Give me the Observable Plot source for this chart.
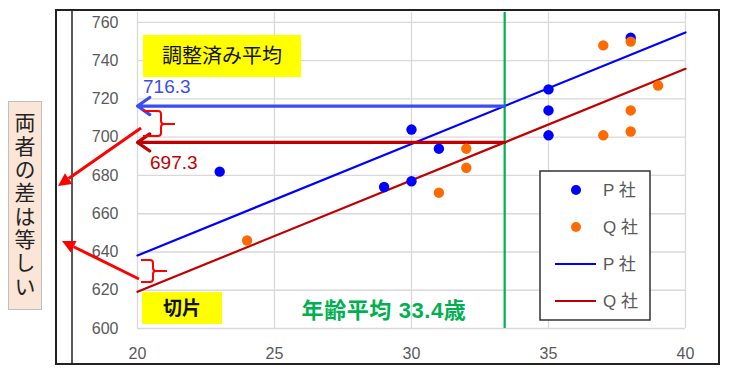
<!DOCTYPE html>
<html><head><meta charset="utf-8">
<script src="https://cdn.jsdelivr.net/npm/d3@7"></script>
<script src="https://cdn.jsdelivr.net/npm/@observablehq/plot@0.6"></script>
<style>
body{margin:0;background:#fff;}
#wrap{position:relative;width:744px;height:372px;overflow:hidden;background:#fff;}
#lbl{position:absolute;left:8px;top:101px;width:32px;height:207px;background:#fbe5d6;border:1px solid #bfbfbf;
 writing-mode:vertical-rl;font-family:"Noto Sans CJK JP",sans-serif;font-size:21px;line-height:32px;letter-spacing:2.3px;
 color:#222;padding-top:0px;text-align:center;box-sizing:content-box;}
</style></head>
<body><div id="wrap"><div id="lbl">両者の差は等しい</div></div>
<script>
// ---- data ----
const pAge    = [23, 29, 30, 30, 31, 35, 35, 35, 38];
const pSalary = [682, 674, 704, 677, 694, 725, 714, 701, 752];
const qAge    = [24, 31, 32, 32, 37, 37, 38, 38, 38, 39];
const qSalary = [646, 671, 694, 684, 748, 701, 750, 714, 703, 727];
const companies = ["P社", "Q社"];
const adjustedMeans = [716.3, 697.3];   // adjusted means (P, Q)
const meanAge = 33.4;                   // overall mean age
const commonSlope = 5.83;               // common regression slope
const xTicks = [20, 25, 30, 35, 40];
const yTicks = [600, 620, 640, 660, 680, 700, 720, 740, 760];

const pts = [
  ...pAge.map((a, i) => ({company: companies[0], age: a, salary: pSalary[i]})),
  ...qAge.map((a, i) => ({company: companies[1], age: a, salary: qSalary[i]}))
];
const xDom = [20, 40];
const lines = companies.flatMap((c, i) => xDom.map(x => ({company: c, age: x, salary: adjustedMeans[i] + commonSlope * (x - meanAge)})));
const arrows = companies.map((c, i) => ({company: c, y: adjustedMeans[i]}));

const dotColor = {"P社": "#0000ff", "Q社": "#ff6a00"};
const lineColor = {"P社": "#0000ff", "Q社": "#c00000"};
const arrowColor = {"P社": "#3b4cf0", "Q社": "#c00000"};
const FONT = "'Liberation Sans','Noto Sans CJK JP',sans-serif";

const plot = Plot.plot({
  width: 744, height: 372,
  marginLeft: 137, marginRight: 59, marginTop: 12, marginBottom: 44,
  style: {fontFamily: FONT, fontSize: "16px", background: "transparent", overflow: "visible"},
  x: {domain: xDom},
  y: {domain: [600, 765.2]},
  marks: [
    Plot.gridX(xTicks, {stroke: "#d9d9d9", strokeOpacity: 1, strokeWidth: 1.3}),
    Plot.gridY(yTicks, {stroke: "#d9d9d9", strokeOpacity: 1, strokeWidth: 1.3}),
    Plot.axisX(xTicks, {tickSize: 0, tickPadding: 19, fill: "#595959", fontSize: 16, label: null}),
    Plot.axisY(yTicks, {tickSize: 0, tickPadding: 19, fill: "#595959", fontSize: 16, label: null}),
    Plot.ruleX([meanAge], {stroke: "#00b050", strokeWidth: 2.2}),
    Plot.line(lines, {x: "age", y: "salary", z: "company", stroke: d => lineColor[d.company], strokeWidth: 2.2}),
    Plot.arrow(arrows, {x1: meanAge, x2: xDom[0], y1: "y", y2: "y", stroke: d => arrowColor[d.company], strokeWidth: 3.2, headLength: 7, headAngle: 70}),
    Plot.dot(pts, {x: "age", y: "salary", r: 5.2, fill: d => dotColor[d.company], stroke: "none"})
  ]
});
document.getElementById("wrap").appendChild(plot);
plot.style.position = "absolute"; plot.style.left = "0px"; plot.style.top = "0px";

// ---- annotations overlay ----
const sx = plot.scale("x"), sy = plot.scale("y");
const svg = d3.select(plot);
const g = svg.append("g").attr("text-anchor", "start");

// outer frame
g.append("rect").attr("x", 56).attr("y", 10).attr("width", 663).attr("height", 354)
  .attr("fill", "none").attr("stroke", "#222").attr("stroke-width", 2);
g.append("line").attr("x1", 72).attr("x2", 72).attr("y1", 10).attr("y2", 364)
  .attr("stroke", "#222").attr("stroke-width", 1.5);

// yellow labels
function box(x, y, w, h, txt, size, weight, tx) {
  g.append("rect").attr("x", x).attr("y", y).attr("width", w).attr("height", h).attr("fill", "#ffff00");
  g.append("text").attr("x", tx).attr("y", y + h / 2).attr("dy", "0.36em").attr("text-anchor", "middle")
    .attr("font-family", "'Noto Sans CJK JP',sans-serif").attr("font-size", size).attr("font-weight", weight)
    .attr("fill", "#111").text(txt);
}
box(143, 35, 158, 42, "調整済み平均", 20, 400, 222);
box(142, 292, 80, 32, "切片", 19, 700, 182);

// value labels
g.append("text").attr("x", 143).attr("y", sy.apply(adjustedMeans[0]) - 19).attr("dy", "0.36em").attr("text-anchor", "start")
  .attr("font-family", FONT).attr("font-size", 19).attr("fill", "#3b4cf0").text(adjustedMeans[0].toFixed(1));
g.append("text").attr("x", 150).attr("y", sy.apply(adjustedMeans[1]) + 20).attr("dy", "0.36em").attr("text-anchor", "start")
  .attr("font-family", FONT).attr("font-size", 19).attr("fill", "#c00000").text(adjustedMeans[1].toFixed(1));

// mean age label
g.append("text").attr("x", 384).attr("y", 310).attr("dy", "0.36em").attr("text-anchor", "middle")
  .attr("font-family", FONT).attr("font-size", 22).attr("font-weight", 700).attr("fill", "#00b050")
  .attr("letter-spacing", "0.6px").text(`年齢平均 ${meanAge}歳`);

// brackets
g.append("path").attr("d", "M143,111 H158 Q161,111 161,114 V121 Q161,124 164,124 H175 M164,124 Q161,124 161,127 V133 Q161,136 158,136 H143")
  .attr("fill", "none").attr("stroke", "#ff0000").attr("stroke-width", 2);
g.append("path").attr("d", "M141,260 H150 Q153,260 153,263 V268 Q153,271 156,271 H167 M156,271 Q153,271 153,274 V279 Q153,282 150,282 H141")
  .attr("fill", "none").attr("stroke", "#ff0000").attr("stroke-width", 2);

// red diagonal arrows
function redArrow(x1, y1, x2, y2) {
  const ang = Math.atan2(y2 - y1, x2 - x1), L = 13, W = 6.5;
  const bx = x2 - L * Math.cos(ang), by = y2 - L * Math.sin(ang);
  g.append("line").attr("x1", x1).attr("y1", y1).attr("x2", bx).attr("y2", by)
    .attr("stroke", "#ff0000").attr("stroke-width", 3);
  const px = -Math.sin(ang) * W, py = Math.cos(ang) * W;
  g.append("path").attr("d", `M${x2},${y2} L${bx + px},${by + py} L${bx - px},${by - py} Z`).attr("fill", "#ff0000");
}
redArrow(141, 128, 58, 186);
redArrow(139, 279, 62, 241);

// legend
const lg = g.append("g");
lg.append("rect").attr("x", 540).attr("y", 171).attr("width", 110).attr("height", 149)
  .attr("fill", "#fff").attr("stroke", "#333").attr("stroke-width", 1.5);
const items = [
  {type: "dot", c: companies[0]}, {type: "dot", c: companies[1]},
  {type: "line", c: companies[0]}, {type: "line", c: companies[1]}
];
items.forEach((it, i) => {
  const y = 190 + i * 37;
  if (it.type === "dot") lg.append("circle").attr("cx", 576).attr("cy", y).attr("r", 5).attr("fill", dotColor[it.c]);
  else lg.append("line").attr("x1", 555).attr("x2", 596).attr("y1", y).attr("y2", y).attr("stroke", lineColor[it.c]).attr("stroke-width", 2.2);
  lg.append("text").attr("x", 603).attr("y", y).attr("dy", "0.36em").attr("text-anchor", "start").attr("font-family", FONT)
    .attr("font-size", 17).attr("fill", "#595959").text(it.c[0] + " " + it.c.slice(1));
});
</script></body></html>
